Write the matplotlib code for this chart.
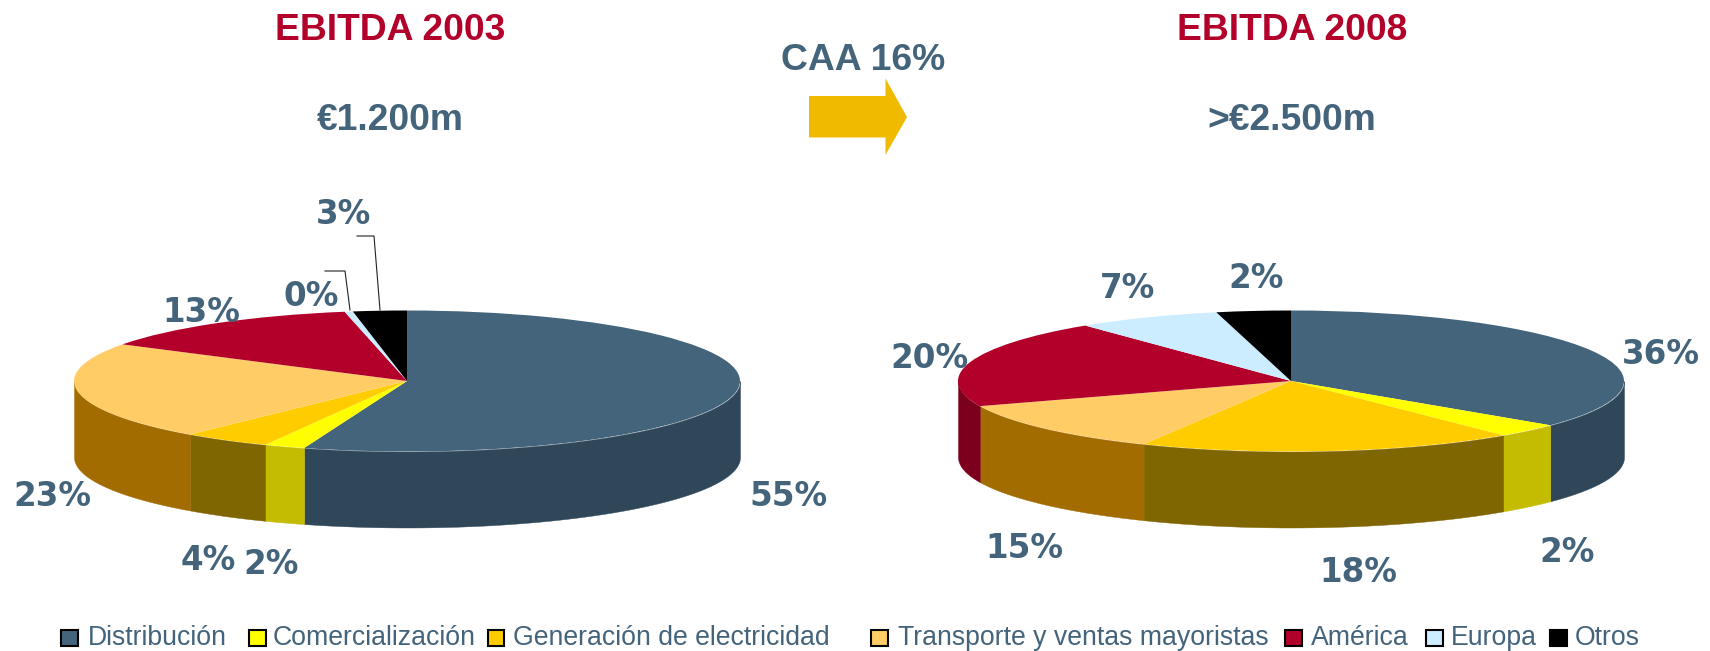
import matplotlib
matplotlib.use('Agg')
import matplotlib.pyplot as plt
import numpy as np

categories = ['Distribución', 'Comercialización', 'Generación de electricidad',
              'Transporte y ventas mayoristas', 'América', 'Europa', 'Otros']
shares_2003 = [55, 2, 4.3, 22.4, 13.3, 0.4, 2.6]
shares_2008 = [35.8, 3.2, 18.3, 11.9, 20.2, 7, 3.6]
labels_2003 = ['55%', '2%', '4%', '23%', '13%', '0%', '3%']
labels_2008 = ['36%', '2%', '18%', '15%', '20%', '7%', '2%']

top_colors = ['#44647C', '#FFFF00', '#FFCC00', '#FFCC66', '#B2002A', '#CCECFF', '#000000']
side_colors = ['#2F4759', '#C4BC00', '#806600', '#A36C00', '#7C001D', '#8FA6B3', '#000000']
BLUE = '#44647C'
RED = '#B2002A'

W, H = 1710, 651
RX, RY, DEPTH = 333, 70.5, 76
CY = 381


def draw_pie(cx, shares):
    # axes box covers the top ellipse plus the wall under it
    bottom = CY + RY + DEPTH
    ax = fig.add_axes([(cx - RX) / W, 1 - bottom / H, 2 * RX / W, (RY * 2 + DEPTH) / H])
    ax.pie(shares, colors=top_colors, startangle=90, counterclock=False, radius=1,
           wedgeprops={'linewidth': 0})
    ax.set_aspect('auto')
    d = DEPTH / RY
    ax.set_xlim(-1, 1)
    ax.set_ylim(-1 - d, 1)
    # side wall, only the front half (clockwise 90-270 deg from the top) shows
    edges = np.cumsum([0] + list(shares)) / sum(shares) * 360
    for i in range(len(shares)):
        a0 = max(edges[i], 90)
        a1 = min(edges[i + 1], 270)
        if a1 <= a0:
            continue
        t = np.radians(np.linspace(a0, a1, 80))
        x = np.sin(t)
        y = np.cos(t)
        ax.fill_between(x, y, y - d, color=side_colors[i], linewidth=0.3, zorder=0)
    ax.axis('off')


fig = plt.figure(figsize=(W / 100, H / 100), dpi=100)
bg = fig.add_axes([0, 0, 1, 1])
bg.set_xlim(0, W)
bg.set_ylim(H, 0)
bg.axis('off')

draw_pie(407, shares_2003)
draw_pie(1291, shares_2008)

# overlay for text, on top of the pies
ov = fig.add_axes([0, 0, 1, 1])
ov.set_xlim(0, W)
ov.set_ylim(H, 0)
ov.axis('off')
ov.patch.set_alpha(0)

title_font = {'family': 'Liberation Sans', 'weight': 'bold', 'fontsize': 26.8,
              'ha': 'center', 'va': 'center'}
ov.text(390, 30.5, 'EBITDA 2003', color=RED, **title_font)
ov.text(1292, 30.5, 'EBITDA 2008', color=RED, **title_font)
ov.text(390, 120, '€1.200m', color=BLUE, **title_font)
ov.text(1292, 120, '>€2.500m', color=BLUE, **title_font)
ov.text(863, 61, 'CAA 16%', color=BLUE, **title_font)

arrow_x = [809, 885.5, 885.5, 907, 885.5, 885.5, 809]
arrow_y = [96, 96, 78.5, 117, 155, 137.5, 137.5]
ov.fill(arrow_x, arrow_y, color='#EFBA00', linewidth=0)

pos_2003 = [(788, 496), (271, 565), (208, 560), (52, 497), (201, 312), (311, 297), (343, 214)]
pos_2008 = [(1661, 355), (1567, 552), (1358, 572), (1024, 549), (929, 359), (1127, 289), (1256, 279)]
label_font = {'family': 'DejaVu Sans', 'weight': 'bold', 'fontsize': 23.5,
              'ha': 'center', 'va': 'center', 'color': BLUE}
for txt, (x, y) in zip(labels_2003, pos_2003):
    ov.text(x, y, txt, **label_font)
for txt, (x, y) in zip(labels_2008, pos_2008):
    ov.text(x, y, txt, **label_font)

# leader lines for the small 2003 slices
ov.plot([357, 374, 380], [236, 236, 310], color='#222222', linewidth=0.8)
ov.plot([325, 345, 350], [271, 271, 310], color='#222222', linewidth=0.8)

# legend, gaps between entries are uneven in the original
box_x = [61, 249, 487.5, 871, 1285, 1426, 1550]
text_x = [88, 273, 513, 897.5, 1311, 1450.5, 1575]
for i, name in enumerate(categories):
    ov.add_patch(plt.Rectangle((box_x[i], 629.5), 16.5, 16.5, facecolor=top_colors[i],
                               edgecolor='black', linewidth=1.5))
    ov.text(text_x[i], 638, name, family='Liberation Sans', fontsize=19.2, color=BLUE,
            ha='left', va='center')

fig.savefig('out.png', dpi=100)
